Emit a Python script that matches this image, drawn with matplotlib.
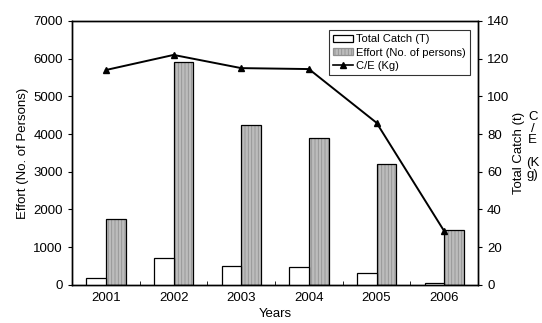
import matplotlib
matplotlib.use("Agg")
import matplotlib.pyplot as plt
import numpy as np
from matplotlib.patches import Patch
from matplotlib.lines import Line2D

plt.rcParams['font.family'] = ['Liberation Sans', 'DejaVu Sans']
plt.rcParams['font.size'] = 9.5
plt.rcParams['hatch.linewidth'] = 0.6

# data
years = ['2001', '2002', '2003', '2004', '2005', '2006']
effort = [1750, 5920, 4230, 3900, 3200, 1450]        # No. of persons (left axis)
total_catch = [3.7, 14.3, 10.0, 9.5, 6.4, 1.2]       # t (right axis)
catch_effort = [114, 122, 115, 114.5, 86, 28.5]      # kg (right axis)

x = np.arange(len(years))
w = 0.29
grey = '#bcbcbc'
grey_hatch = '#929292'

fig = plt.figure(figsize=(5.42, 3.23), dpi=100)
ax = fig.add_axes([0.133, 0.118, 0.749, 0.817])
ax2 = ax.twinx()

# effort bars: speckled grey, then black outline on top
ax.bar(x + w / 2, effort, w, color=grey, hatch='|||||', edgecolor=grey_hatch, linewidth=0)
ax.bar(x + w / 2, effort, w, fill=False, edgecolor='black', linewidth=0.9)

ax2.bar(x - w / 2, total_catch, w, color='white', edgecolor='black', linewidth=0.9)
ax2.plot(x, catch_effort, color='black', linewidth=1.4, marker='^', markersize=5)

ax.set_xlim(-0.5, len(years) - 0.5)
ax.set_ylim(0, 7000)
ax.set_yticks(range(0, 7001, 1000))
ax2.set_ylim(0, 140)
ax2.set_yticks(range(0, 141, 20))

ax.set_xticks(x)
ax.set_xticklabels(years)
ax.tick_params(axis='x', length=0, pad=5)
ax.set_xticks(np.arange(0.5, len(years) - 0.5, 1), minor=True)
ax.tick_params(axis='x', which='minor', direction='in', length=3)
ax.tick_params(axis='y', length=3, width=0.8)
ax2.tick_params(axis='y', length=3, width=0.8)

for a in (ax, ax2):
    for s in a.spines.values():
        s.set_linewidth(1.0)

ax.set_xlabel('Years', labelpad=3)
ax.set_ylabel('Effort (No. of Persons)', labelpad=3)
ax2.set_ylabel('Total Catch (t)', labelpad=3)
fig.text(0.983, 0.548, 'C\n/\nE\n\n(K\ng)', ha='center', va='center', fontsize=9.5, linespacing=0.95)

handles = [
    Patch(facecolor='white', edgecolor='black', linewidth=0.9),
    Patch(facecolor=grey, edgecolor=grey_hatch, hatch='|||||', linewidth=0.9),
    Line2D([], [], color='black', linewidth=1.2, marker='^', markersize=4),
]
labels = ['Total Catch (T)', 'Effort (No. of persons)', 'C/E (Kg)']
leg = ax2.legend(handles, labels, loc='upper right', bbox_to_anchor=(0.985, 0.975),
                 fontsize=8, frameon=True, fancybox=False, edgecolor='black',
                 handlelength=1.8, handleheight=0.6, handletextpad=0.2,
                 labelspacing=0.3, borderpad=0.4, borderaxespad=0.2)
leg.get_frame().set_linewidth(0.8)

fig.savefig('out.png', dpi=100)
